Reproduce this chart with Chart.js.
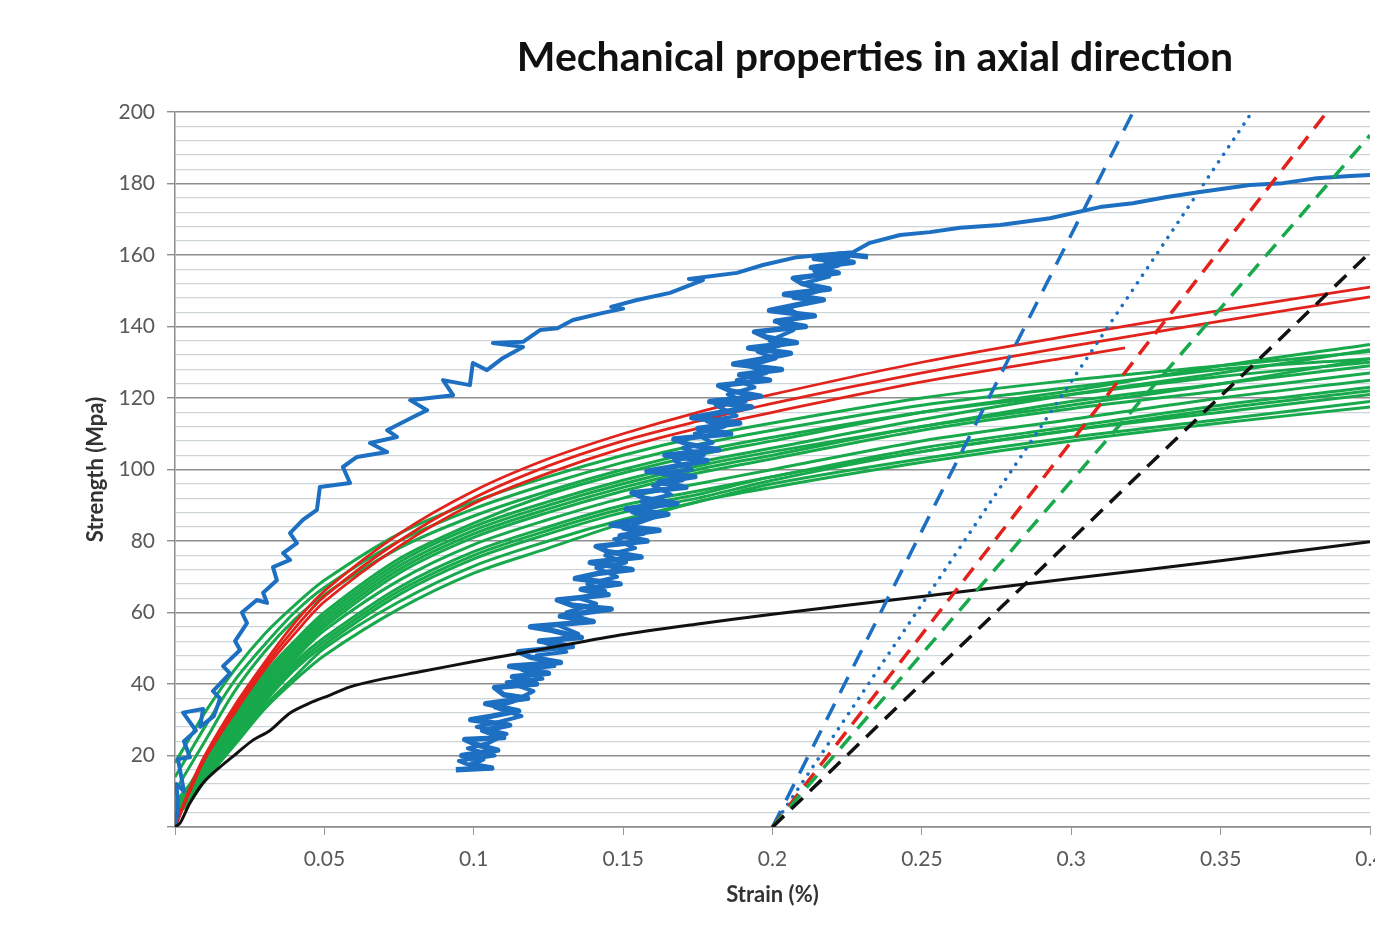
<!DOCTYPE html>
<html>
<head>
<meta charset="utf-8">
<script src="https://cdn.jsdelivr.net/npm/chart.js@4/dist/chart.umd.min.js"></script>
<style>
  html, body { margin: 0; padding: 0; background: #fff; overflow: hidden; width: 1375px; height: 932px; }
  #wrap { position: relative; width: 1375px; height: 932px; overflow: hidden; }
  #title { position: absolute; left: 875px; top: 32px; transform: translateX(-50%); white-space: nowrap;
           font-family: Lato, "Open Sans", sans-serif; font-weight: 700; font-size: 41px; line-height: 48px; color: #111; }
  canvas { position: absolute; left: 0; top: 0; }
</style>
</head>
<body>
<div id="wrap">
  <canvas id="c" width="1400" height="932"></canvas>
  <div id="title">Mechanical properties in axial direction</div>
</div>
<script>
// ---- Data (strain %, strength MPa) ----
const xTickValues = [0.05, 0.1, 0.15, 0.2, 0.25, 0.3, 0.35, 0.4];
const yTickValues = [20, 40, 60, 80, 100, 120, 140, 160, 180, 200];

const blueMain = [[0,0],[0.001,5],[0.0005,12],[0.003,10],[0.001,19],[0.005,19.5],[0.003,24],[0.007,27],[0.0027,32],[0.0094,33],[0.0084,28],[0.013,31],[0.0151,36],[0.0127,38],[0.0184,43],[0.0161,45],[0.0218,49.5],[0.0201,52],[0.0241,57],[0.0224,60],[0.0274,63.5],[0.0308,62.7],[0.0295,65.5],[0.0341,69],[0.0328,72.7],[0.0385,74.7],[0.0362,76.6],[0.0408,79.4],[0.0385,82.2],[0.0428,85.9],[0.0475,88.7],[0.0485,95.1],[0.0586,96.2],[0.0562,100.7],[0.0609,103.5],[0.0710,104.9],[0.0653,107.4],[0.0743,109.1],[0.0710,111.0],[0.0797,114.7],[0.0844,116.6],[0.0787,119.4],[0.0931,120.8],[0.0897,125.0],[0.0987,123.6],[0.0997,129.8],[0.1044,127.8],[0.1098,131.2],[0.1165,134.3],[0.1064,135.4],[0.1165,135.7],[0.1222,139.0],[0.128,139.5],[0.1332,141.8],[0.1433,143.8],[0.150,145],[0.146,145.5],[0.1546,147.4],[0.1657,149.4],[0.1767,153.0],[0.172,153.3],[0.1881,155.0],[0.1968,157.2],[0.2082,159.4],[0.2159,160.0],[0.2269,160.8],[0.2326,163.4],[0.2427,165.6],[0.2527,166.4],[0.2628,167.6],[0.2762,168.4],[0.2929,170.3],[0.3096,173.4],[0.3206,174.5],[0.3320,176.2],[0.3431,177.6],[0.3598,179.6],[0.3708,180.1],[0.3822,181.5],[0.3933,182.1],[0.4,182.4]];

const blueCycle = [[0.094,16],[0.106,16.5],[0.099,17.5],[0.103,19],[0.096,20],[0.108,21.5],[0.101,23],[0.097,24.5],[0.110,25],[0.103,27],[0.112,28.5],[0.099,30],[0.106,31],[0.115,32.5],[0.104,34.5],[0.118,36],[0.110,37],[0.107,39],[0.121,40],[0.113,42],[0.125,43],[0.112,45],[0.129,46],[0.119,47.5],[0.115,49],[0.133,50.5],[0.122,52],[0.136,53],[0.126,55],[0.119,56],[0.140,57.5],[0.129,59],[0.146,61],[0.133,62],[0.128,63.5],[0.145,65],[0.136,66.5],[0.149,68],[0.134,69.5],[0.142,71],[0.153,72],[0.139,74],[0.156,75.5],[0.145,77],[0.141,78.5],[0.158,80],[0.149,81.5],[0.162,83],[0.146,84.5],[0.155,86],[0.165,87.5],[0.151,89],[0.168,90.5],[0.157,92],[0.153,93.5],[0.171,95],[0.162,96.5],[0.174,98],[0.158,99.5],[0.168,101],[0.178,102.5],[0.164,104],[0.182,105.5],[0.172,107],[0.167,108.5],[0.186,110],[0.175,111.5],[0.189,113],[0.173,114.5],[0.183,116],[0.193,117.5],[0.179,119],[0.196,120.5],[0.186,122],[0.182,123.5],[0.199,125],[0.189,126.5],[0.203,128],[0.187,129.5],[0.197,131],[0.206,132.5],[0.192,134],[0.208,135.5],[0.198,137],[0.194,138.5],[0.211,140],[0.201,141.5],[0.214,143],[0.199,144.5],[0.208,146],[0.217,147.5],[0.204,149],[0.219,150.5],[0.210,152],[0.207,153.5],[0.222,155],[0.213,156.5],[0.227,158],[0.214,159],[0.223,160.3],[0.232,159.5]];

const blueCycleReload = [[0.100,16.8],[0.095,18.5],[0.107,20],[0.098,22],[0.105,23.5],[0.111,26],[0.101,28],[0.109,29.5],[0.116,31],[0.107,33.5],[0.113,35],[0.120,38],[0.111,40.5],[0.123,41.5],[0.116,44],[0.127,45],[0.121,48],[0.131,49],[0.124,51.5],[0.135,54],[0.128,56.5],[0.138,58],[0.131,60],[0.141,62.5],[0.135,64],[0.144,66],[0.138,68],[0.148,70],[0.141,72.5],[0.151,74],[0.144,76],[0.154,78],[0.147,80.5],[0.157,82],[0.150,83.5],[0.160,86.5],[0.153,88],[0.163,90],[0.156,91],[0.166,93],[0.160,95.5],[0.170,97],[0.163,99],[0.173,100],[0.167,102.5],[0.177,104],[0.170,106],[0.180,107.5],[0.174,110],[0.184,112],[0.178,113.5],[0.188,115],[0.181,118],[0.191,119],[0.185,121],[0.194,123],[0.188,125],[0.198,127],[0.192,129],[0.201,131],[0.195,133],[0.204,135],[0.199,136],[0.207,139],[0.202,141],[0.210,143],[0.205,145],[0.213,147.5],[0.207,148],[0.216,150],[0.210,152],[0.219,154],[0.214,155.5],[0.222,157],[0.217,158.5],[0.226,159.5]];

const redStrain = [0, 0.005, 0.01, 0.02, 0.03, 0.04, 0.05, 0.075, 0.1, 0.125, 0.15, 0.175, 0.2, 0.25, 0.3, 0.35, 0.4];
const redA = [0, 11, 20, 34, 46, 57, 66, 82, 94, 103, 110, 116, 121, 130, 137.5, 144.5, 151];
const redB = [0, 10.5, 19.5, 33, 45, 55.5, 64.5, 80, 92, 101, 108, 113.5, 118.5, 127, 134.5, 141.5, 148.3];
const redC = [0, 10, 19, 32, 44, 54, 63, 78.5, 90.5, 99, 106, 111.5, 116, 124.5, 131.5, 134];
const redCStrainEnd = 0.318;

const greenStrain = [0, 0.005, 0.01, 0.02, 0.03, 0.04, 0.05, 0.075, 0.1, 0.125, 0.15, 0.175, 0.2, 0.25, 0.3, 0.35, 0.4];
const green1  = [18, 25, 32, 44, 54, 62, 69, 82, 91, 98, 104, 109, 113, 120, 125, 129, 133];
const green2  = [14, 21, 28, 41, 51, 60, 67, 80, 89, 96, 102, 107, 111, 118, 123, 128, 131];
const green3  = [10, 17, 24, 38, 49, 58, 65, 78, 87, 94, 100, 105, 109, 116, 121, 126, 130];
const green4  = [7, 12, 19, 32, 43, 52, 60, 75, 85, 93, 99, 104, 108, 116, 122, 129, 135];
const green5  = [6, 11, 18, 30, 41, 50, 58, 73, 83, 90, 96, 101, 105, 112, 119, 124, 129];
const green6  = [5, 10, 17, 29, 39, 48, 56, 71, 81, 88, 94, 99, 103, 111, 117, 122, 127];
const green7  = [5, 10, 16, 28, 38, 47, 55, 69, 79, 86, 92, 96, 100, 108, 114, 120, 125];
const green8  = [4, 9, 15, 27, 37, 46, 53, 67, 77, 84, 90, 94, 98, 106, 112, 118, 123];
const green9  = [4, 8, 14, 25, 35, 44, 51, 65, 75, 82, 88, 92, 97, 105, 111, 116, 121];
const green10 = [3, 8, 14, 24, 34, 42, 50, 63, 73, 80, 86, 91, 96, 103, 109, 114, 119];
const green11 = [3, 7, 13, 23, 33, 41, 48, 61, 71, 78, 85, 91, 95, 102, 108, 113, 117.5];
const green12 = [6, 11, 18, 31, 42, 51, 59, 74, 84, 91, 97, 102, 106, 114, 121, 127, 133.5];
const green13 = [5, 10, 16, 29, 40, 49, 57, 72, 82, 89, 95, 100, 104, 112, 118, 124, 131];
const green14 = [4, 9, 15, 26, 36, 45, 52, 66, 76, 83, 89, 93, 98, 105, 111, 117, 122];

const blackMain = [[0,0],[0.0017,1.1],[0.005,6.7],[0.0094,12.3],[0.0151,16.8],[0.0208,20.7],[0.0261,24.3],[0.0318,27],[0.0385,31.9],[0.0452,34.7],[0.0519,36.9],[0.0586,39.2],[0.07,41.5],[0.082,43.4],[0.1,46.3],[0.1155,48.6],[0.149,53.7],[0.175,56.8],[0.2,59.5],[0.25,64.5],[0.3,69.5],[0.35,74.5],[0.4,79.8]];

// offset (0.2 %) lines: [start strain, start stress, end strain, end stress]
const offsetBlueDash  = [0.2, 0, 0.3207, 200];
const offsetBlueDot   = [0.2, 0, 0.3605, 200];
const offsetRedDash   = [0.2, 0, 0.3856, 200];
const offsetGreenDash = [0.2, 0, 0.4, 193.5];
const offsetBlackDash = [0.2, 0, 0.4, 160.7];

// ---- Build ----
const BLUE = '#1d6fc2', RED = '#e2231c', GREEN = '#17a94b', BLACK = '#111111';
const pairs = arr => arr.map(p => ({x: p[0], y: p[1]}));
const zipXY = (xs, ys) => ys.map((y, i) => ({x: xs[i], y}));
const seg = s => [{x: s[0], y: s[1]}, {x: s[2], y: s[3]}];

const datasets = [];
const dash = (s, color, d, w, cap) => datasets.push({data: seg(s), borderColor: color, borderWidth: w, borderDash: d, borderCapStyle: cap || 'butt', pointRadius: 0, tension: 0});
dash(offsetBlackDash, BLACK, [16, 10], 3.5);
dash(offsetGreenDash, GREEN, [16, 10], 3.5);
dash(offsetRedDash, RED, [16, 10], 3.5);
dash(offsetBlueDot, BLUE, [0.1, 9], 3.5, 'round');
dash(offsetBlueDash, BLUE, [18, 12], 3.5);

datasets.push({data: pairs(blackMain), borderColor: BLACK, borderWidth: 3, pointRadius: 0, tension: 0.3});
datasets.push({data: pairs(blueCycle), borderColor: BLUE, borderWidth: 5.5, pointRadius: 0, tension: 0, borderJoinStyle: 'round'});
datasets.push({data: pairs(blueCycleReload), borderColor: BLUE, borderWidth: 4, pointRadius: 0, tension: 0, borderJoinStyle: 'round'});
datasets.push({data: pairs(blueMain), borderColor: BLUE, borderWidth: 4, pointRadius: 0, tension: 0, borderJoinStyle: 'round'});

const redCX = redStrain.slice(0, redC.length - 1).concat([redCStrainEnd]);
[[redStrain, redA], [redStrain, redB], [redCX, redC]].forEach(([xs, ys]) =>
  datasets.push({data: zipXY(xs, ys), borderColor: RED, borderWidth: 2.8, pointRadius: 0, tension: 0.3}));

[green1, green2, green3, green4, green5, green6, green7, green8, green9, green10, green11, green12, green13, green14].forEach(ys =>
  datasets.push({data: zipXY(greenStrain, ys), borderColor: GREEN, borderWidth: 3, pointRadius: 0, tension: 0.3}));

const tickFont = {family: 'Lato, "Open Sans", sans-serif', size: 21};
const titleFont = {family: 'Lato, "Open Sans", sans-serif', size: 22, weight: 'bold'};

new Chart(document.getElementById('c'), {
  type: 'line',
  data: {datasets},
  options: {
    responsive: false,
    animation: false,
    devicePixelRatio: 1,
    layout: {padding: {left: 79, top: 112, right: 30, bottom: 20}},
    plugins: {legend: {display: false}, tooltip: {enabled: false}, title: {display: false}},
    elements: {line: {fill: false}},
    scales: {
      x: {
        type: 'linear', min: 0, max: 0.4,
        afterFit: s => { s.height = 85; },
        afterBuildTicks: s => { s.ticks = [0].concat(xTickValues).map(v => ({value: v})); },
        ticks: {
          font: tickFont, color: '#595959', padding: 12, maxRotation: 0, autoSkip: false,
          callback: v => v === 0 ? '' : String(Number(v.toFixed(2)))
        },
        grid: {drawOnChartArea: false, drawTicks: true, tickLength: 8, color: '#9a9a9a', lineWidth: 1},
        border: {display: true, color: '#8c8c8c', width: 1.5},
        title: {display: true, text: 'Strain (%)', font: titleFont, color: '#333', padding: {top: 4, bottom: 4}}
      },
      y: {
        type: 'linear', min: 0, max: 200,
        afterFit: s => { s.width = 96; },
        afterBuildTicks: s => { const t = []; for (let v = 0; v <= 200; v += 4) t.push({value: v}); s.ticks = t; },
        ticks: {
          font: tickFont, color: '#595959', padding: 12, autoSkip: false,
          callback: v => (v !== 0 && yTickValues.includes(v)) ? String(v) : ''
        },
        grid: {
          drawTicks: true, tickLength: 8,
          color: c => (c.tick && c.tick.value % 20 === 0) ? '#8e8e8e' : '#cdd5d9',
          tickColor: c => (c.tick && c.tick.value % 20 === 0) ? '#8e8e8e' : 'rgba(0,0,0,0)',
          lineWidth: c => (c.tick && c.tick.value % 20 === 0) ? 1.4 : 1.2
        },
        border: {display: true, color: '#8c8c8c', width: 1.5},
        title: {display: true, text: 'Strength (Mpa)', font: titleFont, color: '#333', padding: {top: 4, bottom: 4}}
      }
    }
  }
});
</script>
</body>
</html>
